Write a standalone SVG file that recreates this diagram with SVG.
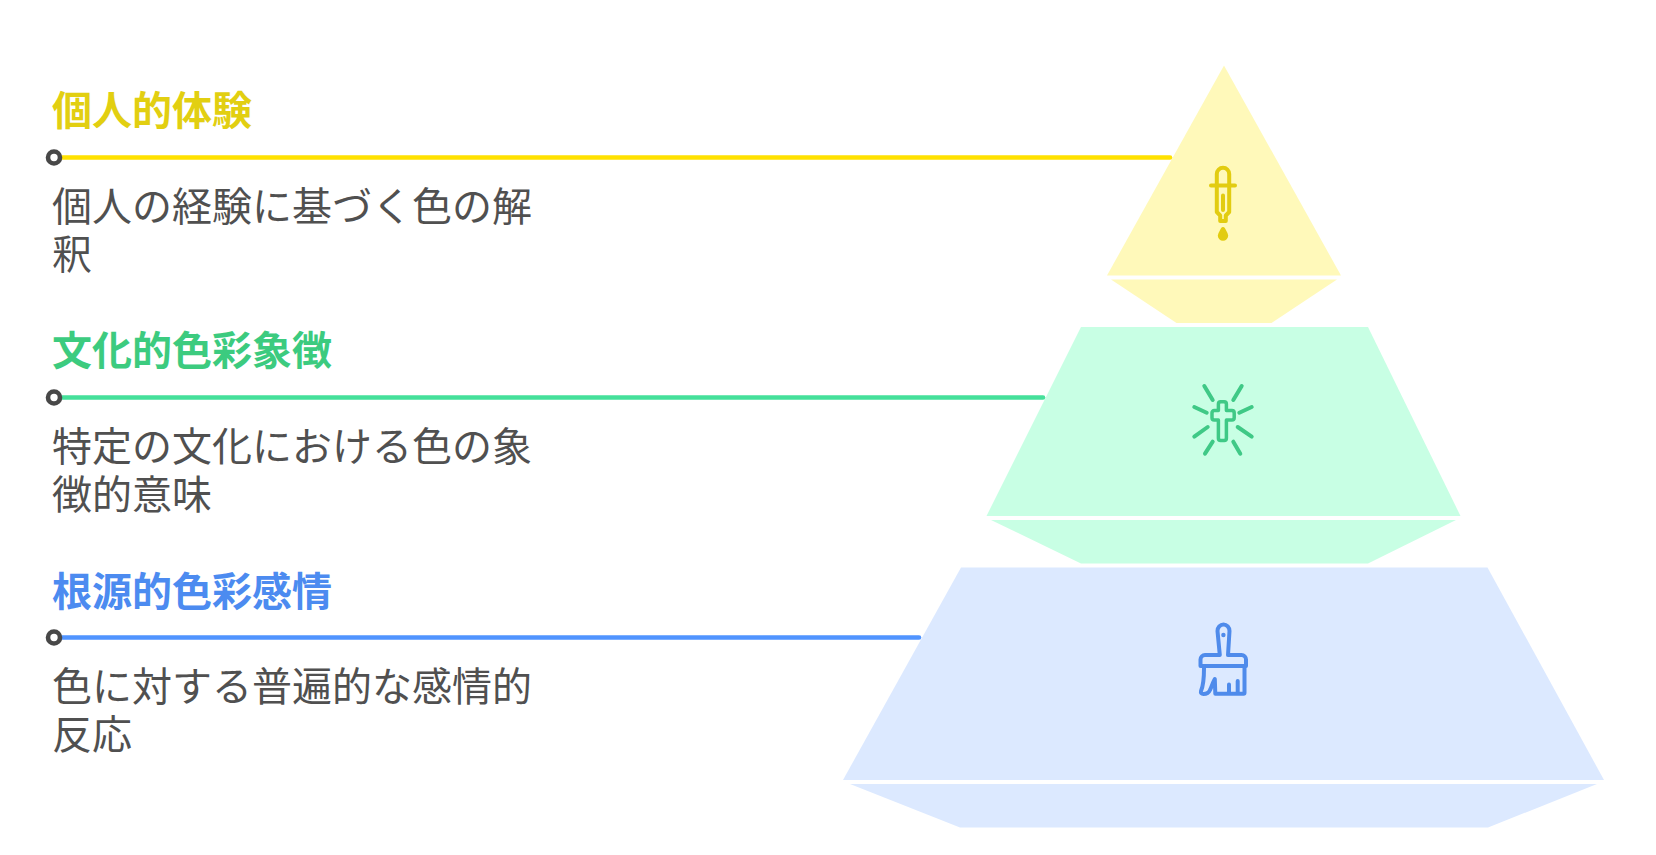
<svg xmlns="http://www.w3.org/2000/svg" width="1656" height="855" viewBox="0 0 1656 855">
<style>
text{font-family:"Noto Sans CJK JP","Noto Sans",sans-serif;font-size:40px}
.h{font-weight:700}
.b{fill:#505050}
.ic{fill:none;stroke-width:4;stroke-linecap:round;stroke-linejoin:round}
.ln{stroke-width:4.6;stroke-linecap:round;fill:none}
.dot{fill:#fff;stroke:#484848;stroke-width:4.6}
.y{fill:#FFF9BA}.g{fill:#C8FFE4}.u{fill:#DCE9FF}
</style>
<rect width="1656" height="855" fill="#fff"/>
<g id="node-personal">
<polygon class="y" points="1224,65.5 1341,275.5 1107,275.5"/>
<polygon class="y" points="1111,279.5 1337,279.5 1271.5,323 1176.5,323"/>
<g class="ic" stroke="#E2CC10">
<path d="M1216.8,185.5V174a6.2,6.2 0 0 1 12.4,0V185.5M1211,185.5H1235M1216.8,185.5V212l3.4,3.5V221H1225.8V215.5l3.4,-3.5V185.5M1223,195.5V210"/>
<path d="M1223,229c-1.5,3 -3.2,4.4 -3.2,6.6a3.2,3.2 0 0 0 6.4,0c0,-2.2 -1.7,-3.6 -3.2,-6.6z" fill="#E2CC10"/>
</g>
<text class="h" x="52" y="125" fill="#E2CF11">個人的体験</text>
<text class="b" x="52" y="221">個人の経験に基づく色の解<tspan x="52" dy="48">釈</tspan></text>
</g>
<g id="node-cultural">
<polygon class="g" points="1081,327 1368,327 1460.5,516 986.5,516"/>
<polygon class="g" points="991,520 1456,520 1368,563.5 1081,563.5"/>
<g class="ic" stroke="#3FC986">
<path style="stroke-width:3.5" d="M1218.4,410.5V404a2.2,2.2 0 0 1 2.2,-2.2h3.6a2.2,2.2 0 0 1 2.2,2.2v6.5h5.6a2.2,2.2 0 0 1 2.2,2.2v5.1a2.2,2.2 0 0 1 -2.2,2.2h-5.6v18.3a2.2,2.2 0 0 1 -2.2,2.2h-3.6a2.2,2.2 0 0 1 -2.2,-2.2V420h-4.2a2.2,2.2 0 0 1 -2.2,-2.2v-5.1a2.2,2.2 0 0 1 2.2,-2.2z"/>
<path d="M1204.3,386L1212.7,400M1241.7,386L1233.3,400M1194.3,407L1206.7,412.7M1251.7,407L1239.3,412.7M1194.3,436.7L1207.7,427M1251.7,436.7L1237.7,427M1205,453.7L1212.7,441.7M1240.3,453.7L1233.3,441.7"/>
</g>
<text class="h" x="52" y="365" fill="#3CCB7F">文化的色彩象徴</text>
<text class="b" x="52" y="461">特定の文化における色の象<tspan x="52" dy="48">徴的意味</tspan></text>
</g>
<g id="node-root">
<polygon class="u" points="961,567.5 1487.5,567.5 1604,780 843,780"/>
<polygon class="u" points="850,784 1597,784 1488,827.5 960,827.5"/>
<g class="ic" stroke="#4F8BEB">
<path d="M1219.8,655L1217.5,631a6,6.5 0 0 1 12,0L1228,655M1219.8,655H1205a4.5,4.5 0 0 0 -4.5,4.5V666H1246V659.5a4.5,4.5 0 0 0 -4.5,-4.5H1228"/>
<path d="M1204,666.5c0,10 0.2,17 -3,24.5c-0.5,2 0.5,3 2.5,3c3,0 5,-0.5 6.5,-4c1.5,-3 3,-8 4.8,-11l0.5,14.8H1243.5a1,1 0 0 0 1,-1V666.5M1229,684.5V693.5M1237.7,681V693.5"/>
<circle cx="1223.4" cy="635" r="2.2" fill="#4F8BEB" stroke="none"/>
</g>
<text class="h" x="52" y="605.5" fill="#4C8BF0">根源的色彩感情</text>
<text class="b" x="52" y="701">色に対する普遍的な感情的<tspan x="52" dy="48">反応</tspan></text>
</g>
<g id="connectors">
<path class="ln" stroke="#FFE100" d="M60,157.5H1170"/>
<path class="ln" stroke="#45E09A" d="M60,397.5H1043"/>
<path class="ln" stroke="#5094FF" d="M60,637.5H919"/>
<circle class="dot" cx="54" cy="157.5" r="6"/>
<circle class="dot" cx="54" cy="397.5" r="6"/>
<circle class="dot" cx="54" cy="637.5" r="6"/>
</g>
</svg>
